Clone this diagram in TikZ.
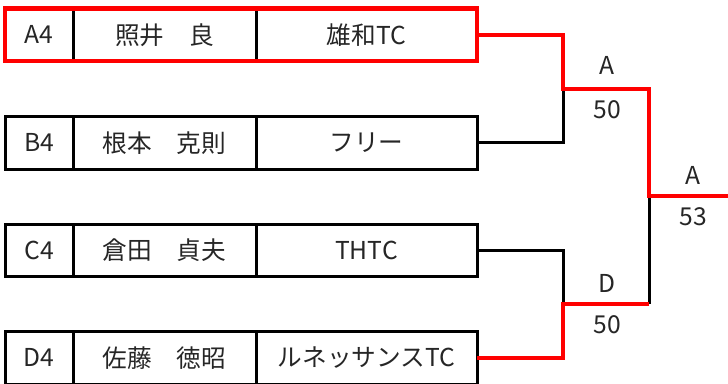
\documentclass[tikz,border=0pt]{standalone}
\usepackage{fontspec}
\setmainfont{Noto Sans CJK JP}
\begin{document}
\begin{tikzpicture}[x=0.75pt,y=-0.75pt,
  cell/.style={draw=black,line width=2.25pt,minimum height=39.4pt,inner sep=0pt,outer sep=0pt,anchor=north west,font=\fontsize{18.5}{20}\selectfont,text=black!85},
  idcell/.style={cell,minimum width=51pt},
  namecell/.style={cell,minimum width=137.25pt},
  clubcell/.style={cell,minimum width=165.75pt},
  blk/.style={draw=black,line width=2.25pt},
  win/.style={draw=red,line width=3.4pt},
  lab/.style={font=\fontsize{18.5}{20}\selectfont,text=black!85,inner sep=0pt}]
\useasboundingbox (0,0) rectangle (728,383);
% row 1
\node[idcell] (a1) at (5,8.5) {A4};
\node[namecell] (a2) at (73,8.5) {照井　良};
\node[clubcell] (a3) at (256,8.5) {雄和TC};
% row 2
\node[idcell] (b1) at (5,116.5) {B4};
\node[namecell] (b2) at (73,116.5) {根本　克則};
\node[clubcell] (b3) at (256,116.5) {フリー};
% row 3
\node[idcell] (c1) at (5,224) {C4};
\node[namecell] (c2) at (73,224) {倉田　貞夫};
\node[clubcell] (c3) at (256,224) {THTC};
% row 4
\node[idcell] (d1) at (5,331.5) {D4};
\node[namecell] (d2) at (73,331.5) {佐藤　徳昭};
\node[clubcell] (d3) at (256,331.5) {ルネッサンスTC};
% highlight of row 1
\draw[win] (a1.north west) rectangle (a3.south east);
% junctions
\coordinate (m1) at (563,89);
\coordinate (m2) at (563,304);
\coordinate (f1) at (649,196);
\coordinate (f2) at (649,304);
\coordinate (fin) at (730,196);
% black connectors
\draw[blk] (b3.east) -| (m1);
\draw[blk] (c3.east) -| (m2);
\draw[blk] (f2) -- (f1);
% red connectors
\draw[win] (a3.east) -| (m1) -| (f1) -- (fin);
\draw[win] (d3.east) -| (m2) -- (f2);
% labels
\node[lab] (l1) at (607,65) {A};
\node[lab] (s1) at (607,110) {50};
\node[lab] (l2) at (607,283) {D};
\node[lab] (s2) at (607,325) {50};
\node[lab] (l3) at (693,175) {A};
\node[lab] (s3) at (693,217) {53};
\end{tikzpicture}
\end{document}
